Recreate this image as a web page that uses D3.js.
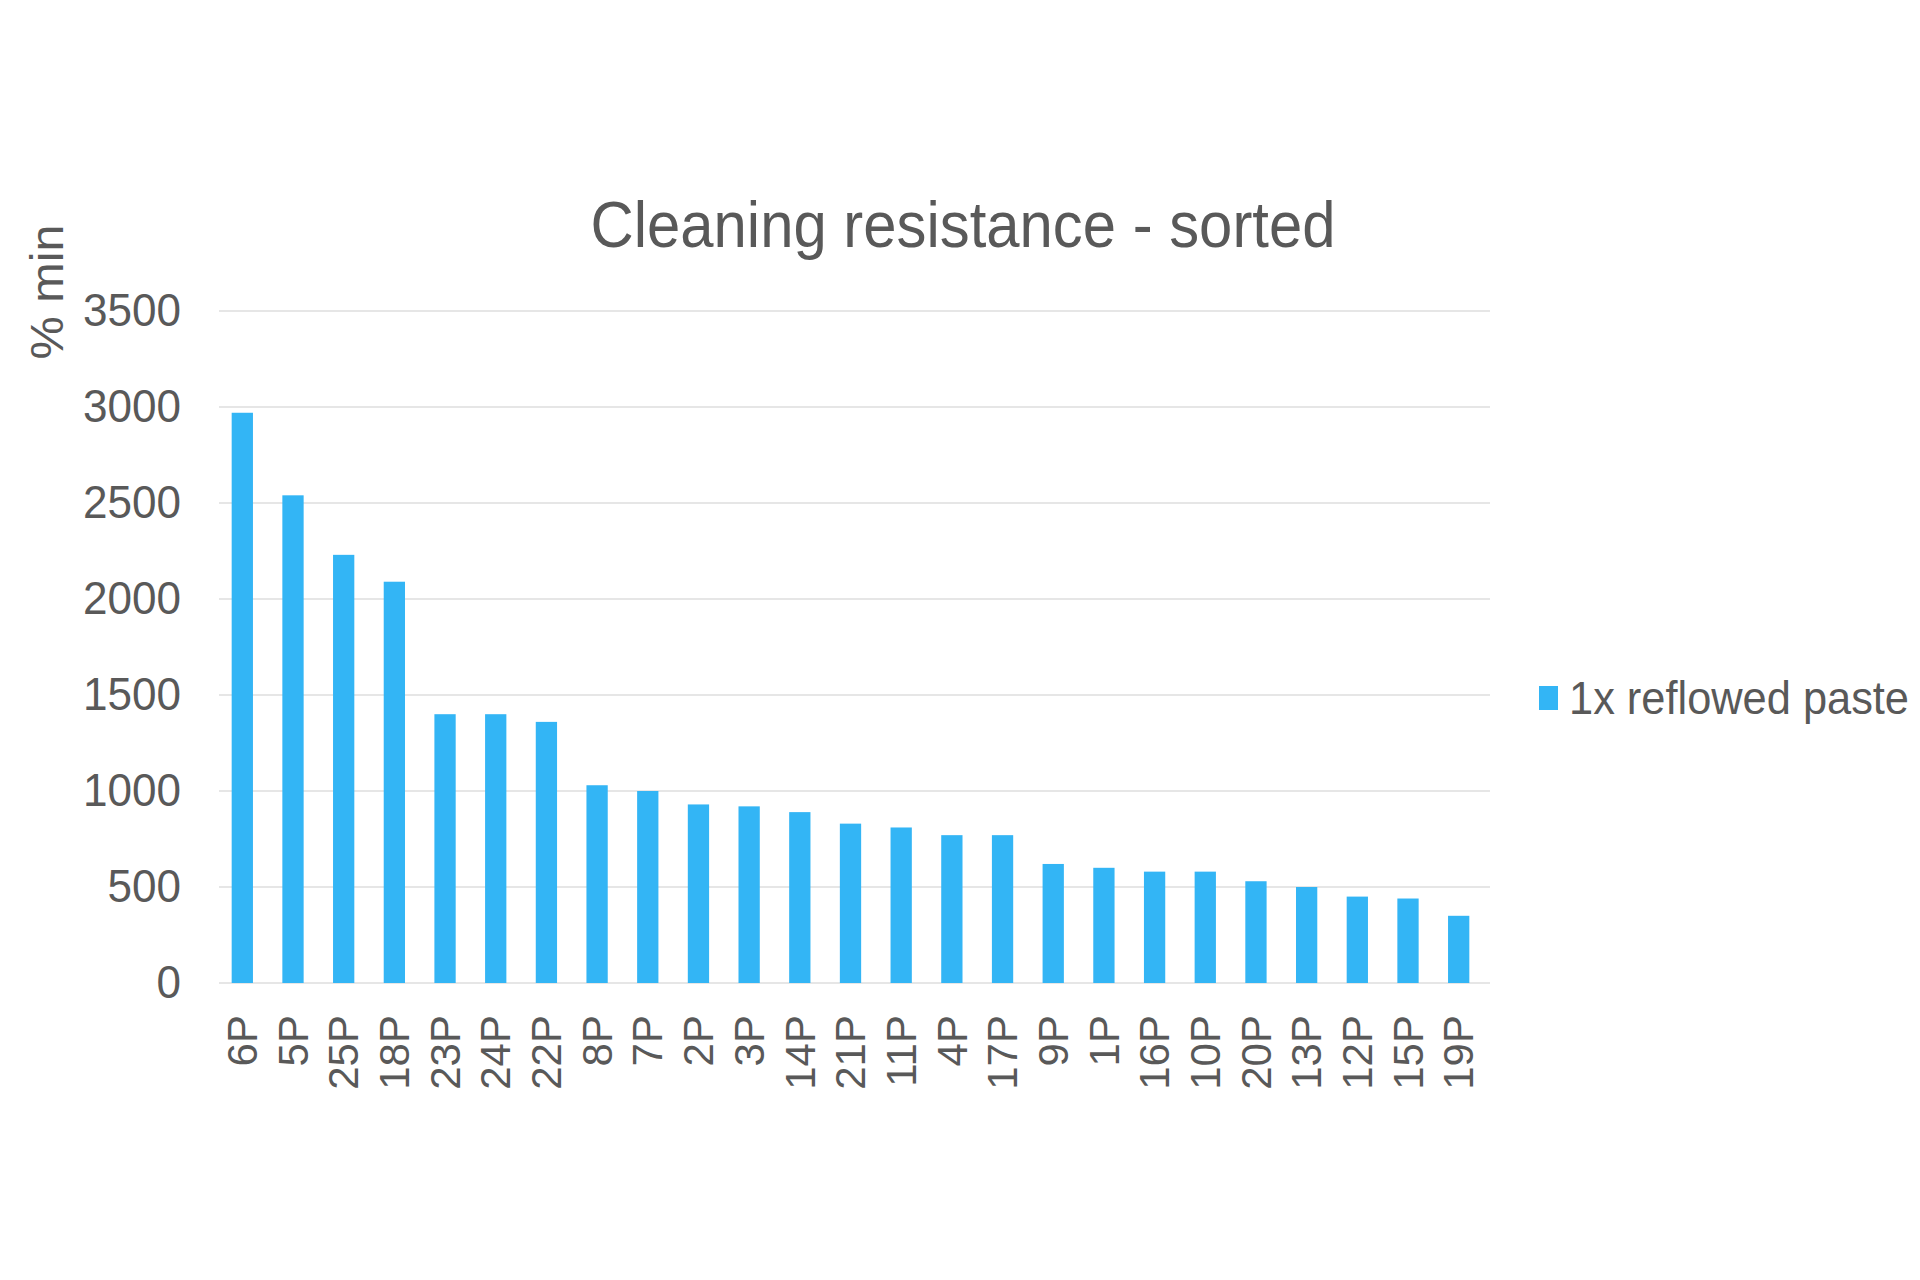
<!DOCTYPE html>
<html><head><meta charset="utf-8">
<script src="https://cdn.jsdelivr.net/npm/d3@7"></script>
<style>body{margin:0;background:#fff}</style>
</head><body>
<svg id="chart" width="1920" height="1280"></svg>
<script>
var categories = ["6P","5P","25P","18P","23P","24P","22P","8P","7P","2P","3P","14P","21P","11P","4P","17P","9P","1P","16P","10P","20P","13P","12P","15P","19P"];
var values = [2970,2540,2230,2090,1400,1400,1360,1030,1000,930,920,890,830,810,770,770,620,600,580,580,530,500,450,440,350];
var yTicks = [0,500,1000,1500,2000,2500,3000,3500];

var svg = d3.select('#chart');
var font = "'Liberation Sans', Arial, sans-serif";
var margin = {left: 219, right: 1482, top: 311, bottom: 983};

var x = d3.scaleBand().domain(categories).range([margin.left, margin.right]).paddingInner(0.58).paddingOuter(0.25);
var y = d3.scaleLinear().domain([0, 3500]).range([margin.bottom, margin.top]);

// grid
svg.append('g').selectAll('line').data(yTicks).join('line')
  .attr('x1', margin.left).attr('x2', margin.right + 8)
  .attr('y1', d => y(d)).attr('y2', d => y(d))
  .attr('stroke', '#e6e6e6').attr('stroke-width', 2);

var yaxis = d3.axisLeft(y).tickValues(yTicks).tickFormat(d3.format('d')).tickSize(0).tickPadding(38);
svg.append('g').attr('transform', 'translate(' + margin.left + ',0)').call(yaxis)
  .call(g => g.select('.domain').remove())
  .selectAll('text').attr('font-family', font).attr('font-size', 46).attr('fill', '#595959')
  .attr('lengthAdjust', 'spacingAndGlyphs')
  .attr('textLength', d => String(d).length * 24.5);

svg.append('g').selectAll('rect').data(values).join('rect')
  .attr('x', (d, i) => x(categories[i]))
  .attr('width', x.bandwidth())
  .attr('y', d => y(d))
  .attr('height', d => y(0) - y(d))
  .attr('fill', '#33b5f5');

var xaxis = d3.axisBottom(x).tickSize(0).tickPadding(0);
svg.append('g').attr('transform', 'translate(0,' + (margin.bottom + 32) + ')').call(xaxis)
  .call(g => g.select('.domain').remove())
  .selectAll('text')
  .attr('font-family', font).attr('font-size', 42).attr('fill', '#595959')
  .attr('transform', 'rotate(-90)').attr('text-anchor', 'end').attr('dy', '0.35em').attr('x', 0).attr('y', 0);

svg.append('text').attr('x', 963).attr('y', 247).attr('text-anchor', 'middle')
  .attr('font-family', font).attr('font-size', 64).attr('fill', '#595959')
  .attr('lengthAdjust', 'spacingAndGlyphs').attr('textLength', 745)
  .text('Cleaning resistance - sorted');

svg.append('text').attr('transform', 'translate(63,292) rotate(-90)').attr('text-anchor', 'middle')
  .attr('font-family', font).attr('font-size', 46).attr('fill', '#595959')
  .attr('lengthAdjust', 'spacingAndGlyphs').attr('textLength', 135)
  .text('% min');

svg.append('rect').attr('x', 1539).attr('y', 686).attr('width', 19).attr('height', 24).attr('fill', '#33b5f5');
svg.append('text').attr('x', 1569).attr('y', 714)
  .attr('font-family', font).attr('font-size', 46).attr('fill', '#595959')
  .attr('lengthAdjust', 'spacingAndGlyphs').attr('textLength', 340)
  .text('1x reflowed paste');
</script>
</body></html>
